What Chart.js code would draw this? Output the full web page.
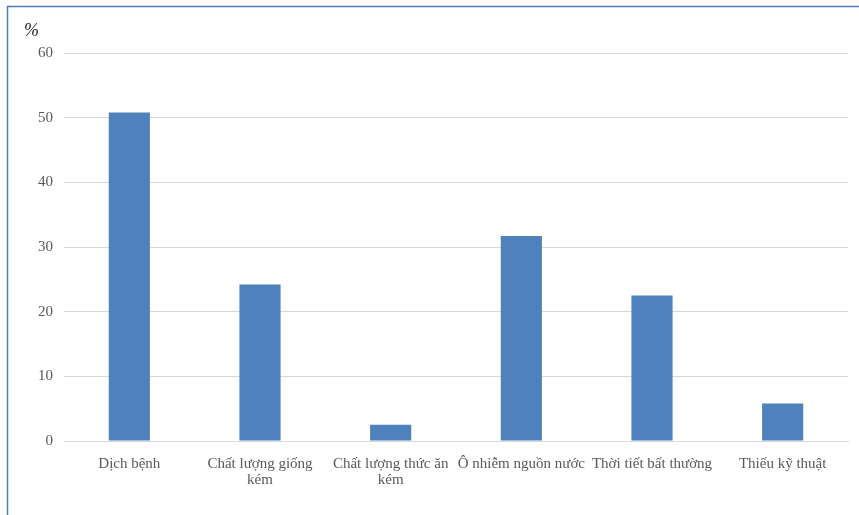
<!DOCTYPE html>
<html>
<head>
<meta charset="utf-8">
<script src="https://cdn.jsdelivr.net/npm/chart.js@4/dist/chart.umd.min.js"></script>
<style>
  html, body { margin: 0; padding: 0; background: #fff; overflow: hidden; }
  #chart { display: block; }
</style>
</head>
<body>
<canvas id="chart" width="859" height="515"></canvas>
<script>
const categories = [
  'Dịch bệnh',
  ['Chất lượng giống', 'kém'],
  ['Chất lượng thức ăn', 'kém'],
  'Ô nhiễm nguồn nước',
  'Thời tiết bất thường',
  'Thiếu kỹ thuật'
];
const percentValues = [50.8, 24.2, 2.5, 31.7, 22.5, 5.8];
const yTicks = [0, 10, 20, 30, 40, 50, 60];

const textColor = '#595959';
const serif = '"Liberation Serif", "Times New Roman", serif';

// blue frame on the left and top, plus the "%" unit label
const framePlugin = {
  id: 'frame',
  beforeDraw(chart) {
    const c = chart.ctx;
    c.save();
    c.fillStyle = '#fff';
    c.fillRect(0, 0, chart.width, chart.height);
    c.strokeStyle = '#4a7ebb';
    c.lineWidth = 1.5;
    c.beginPath();
    c.moveTo(7.5, chart.height);
    c.lineTo(7.5, 6.5);
    c.lineTo(chart.width, 6.5);
    c.stroke();
    c.restore();
  },
  afterDraw(chart) {
    const c = chart.ctx;
    c.save();
    c.fillStyle = '#262626';
    c.font = 'italic 18px ' + serif;
    c.textBaseline = 'middle';
    c.fillText('%', 24, 31);
    c.restore();
  }
};

new Chart(document.getElementById('chart').getContext('2d'), {
  type: 'bar',
  data: {
    labels: categories,
    datasets: [{
      data: percentValues,
      backgroundColor: '#4f81bd',
      borderWidth: 0,
      barPercentage: 0.63,
      categoryPercentage: 0.5
    }]
  },
  plugins: [framePlugin],
  options: {
    responsive: false,
    animation: false,
    devicePixelRatio: 1,
    layout: { padding: { left: 0, right: 11, top: 53, bottom: 0 } },
    plugins: {
      legend: { display: false },
      tooltip: { enabled: false }
    },
    scales: {
      x: {
        grid: { display: false, drawTicks: false },
        border: { color: '#d9d9d9' },
        ticks: {
          color: textColor,
          font: { family: serif, size: 15, lineHeight: 16 / 15 },
          padding: 15,
          autoSkip: false,
          maxRotation: 0
        },
        afterFit(axis) { axis.height = 74; }
      },
      y: {
        min: 0,
        max: 60,
        afterBuildTicks(axis) { axis.ticks = yTicks.map(v => ({ value: v })); },
        grid: { color: '#d9d9d9', drawTicks: false },
        border: { display: false },
        ticks: {
          color: textColor,
          font: { family: serif, size: 15 },
          padding: 11
        },
        afterFit(axis) { axis.width = 64; }
      }
    }
  }
});
</script>
</body>
</html>
